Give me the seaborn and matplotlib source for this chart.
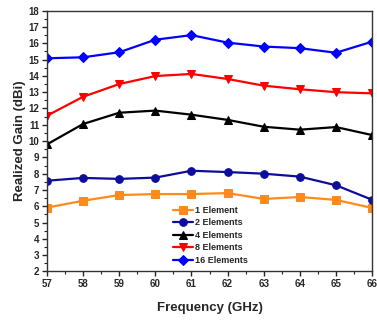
import matplotlib
matplotlib.use("Agg")
import matplotlib.pyplot as plt
from matplotlib.ticker import MultipleLocator
import pandas as pd
import seaborn as sns

freq = [57, 58, 59, 60, 61, 62, 63, 64, 65, 66]
gain_1 = [5.92, 6.34, 6.69, 6.75, 6.75, 6.81, 6.45, 6.57, 6.39, 5.90]
gain_2 = [7.57, 7.74, 7.68, 7.76, 8.18, 8.10, 8.00, 7.82, 7.29, 6.40]
gain_4 = [9.80, 11.05, 11.74, 11.87, 11.62, 11.30, 10.88, 10.70, 10.86, 10.37]
gain_8 = [11.56, 12.72, 13.50, 13.99, 14.12, 13.81, 13.40, 13.18, 13.00, 12.93]
gain_16 = [15.08, 15.14, 15.45, 16.22, 16.50, 16.04, 15.80, 15.70, 15.42, 16.10]

labels = ["1 Element", "2 Elements", "4 Elements", "8 Elements", "16 Elements"]
series = [gain_1, gain_2, gain_4, gain_8, gain_16]
colors = ["#FF8A1C", "#0D0D9C", "#000000", "#FF0000", "#0000FF"]
markers = ["s", "o", "^", "v", "D"]

rows = []
for lab, vals in zip(labels, series):
    for f, g in zip(freq, vals):
        rows.append({"Frequency": f, "Gain": g, "Array": lab})
df = pd.DataFrame(rows)

sns.set_style("ticks")
plt.rcParams["font.family"] = ["Liberation Sans", "DejaVu Sans"]
plt.rcParams["font.weight"] = "bold"

fig = plt.figure(figsize=(3.77, 3.2), dpi=100)
ax = fig.add_axes([0.1247, 0.1516, 0.8623, 0.815])

for lab, col, mk in zip(labels, colors, markers):
    sub = df[df["Array"] == lab]
    sns.lineplot(data=sub, x="Frequency", y="Gain", ax=ax, color=col,
                 marker=mk, markersize=5.5 if mk != "D" else 5,
                 markeredgecolor=col, linewidth=1.6, label=lab)

ax.set_xlim(57, 66)
ax.set_ylim(2, 18)
ax.xaxis.set_major_locator(MultipleLocator(1))
ax.xaxis.set_minor_locator(MultipleLocator(0.5))
ax.yaxis.set_major_locator(MultipleLocator(1))
ax.yaxis.set_minor_locator(MultipleLocator(0.5))
ax.tick_params(axis="both", which="major", direction="out", length=3.5, width=1,
               labelsize=7, pad=2, top=False, right=False)
ax.tick_params(axis="both", which="minor", direction="out", length=2, width=0.8,
               top=False, right=False)
for lbl in ax.get_xticklabels() + ax.get_yticklabels():
    lbl.set_fontweight("bold")
for sp in ax.spines.values():
    sp.set_visible(True)
    sp.set_linewidth(1.0)
    sp.set_color("#333333")

ax.set_xlabel("Frequency (GHz)", fontsize=9.5, fontweight="bold", labelpad=9)
ax.set_ylabel("Realized Gain (dBi)", fontsize=9.5, fontweight="bold", labelpad=2)

leg = ax.legend(loc="lower left", bbox_to_anchor=(0.37, 0.005), frameon=False,
                fontsize=6.5, handlelength=2.2, handletextpad=0.3, labelspacing=0.38,
                borderaxespad=0.2)
for t in leg.get_texts():
    t.set_fontweight("bold")

fig.savefig("out.png", dpi=100)
